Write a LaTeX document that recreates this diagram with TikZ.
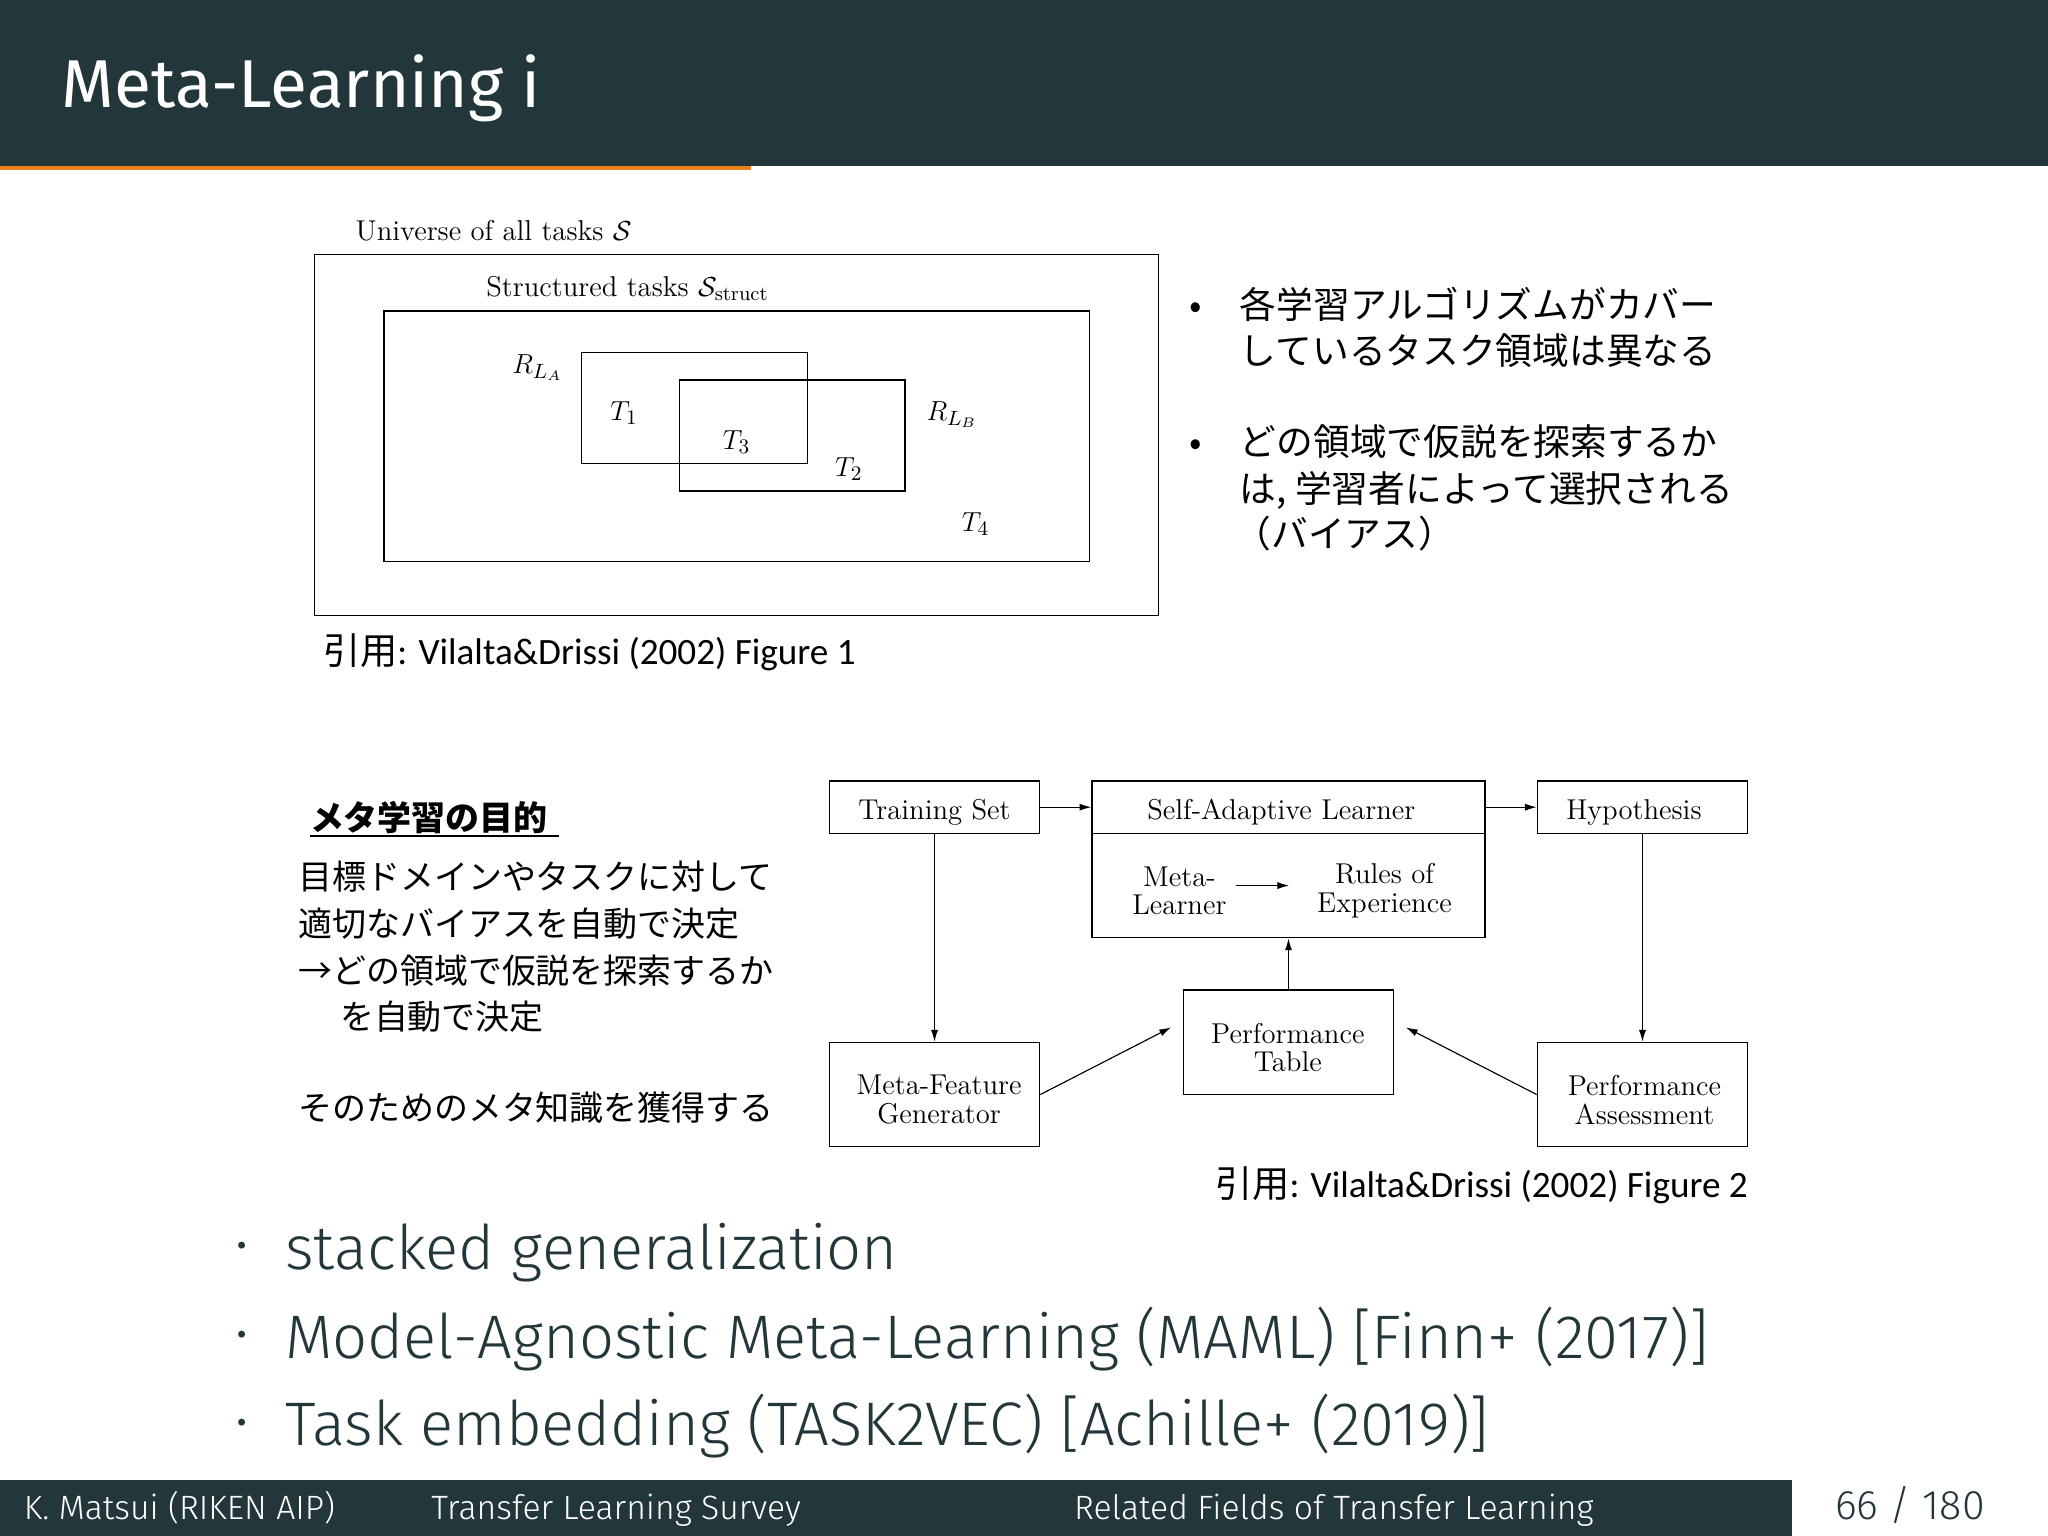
\documentclass[tikz,border=0pt]{standalone}
\usepackage{fontspec}
\usepackage{amsmath}
\setsansfont{Fira Sans}
\newfontfamily\cjk{Noto Sans CJK JP}
\newfontfamily\fira{Fira Sans}
\newfontfamily\firal{Fira Sans Light}
\newfontfamily\carl{Carlito}
\usetikzlibrary{arrows.meta,calc}
\definecolor{slate}{HTML}{23373B}
\definecolor{orng}{HTML}{EB811B}
\newcommand{\fsz}[1]{\fontsize{#1pt}{#1pt}\selectfont}
\begin{document}
\begin{tikzpicture}[x=0.02cm,y=-0.02cm,
  box/.style={draw,line width=0.6pt,inner sep=0pt},
  btxt/.style={inner sep=0pt,align=center,font=\fsz{12.5}},
  arr/.style={line width=0.5pt,-{Latex[length=1.8mm,width=1.1mm]}},
  jp/.style={anchor=base west,font=\cjk\fsz{16},inner sep=0pt},
  jpl/.style={anchor=base west,font=\cjk\fsz{14.8},inner sep=0pt},
  lm/.style={anchor=base west,font=\fsz{12.5},inner sep=0pt}]
\useasboundingbox (0,0) rectangle (1568,1176);
\fill[white] (0,0) rectangle (1568,1176);
% header
\fill[slate] (0,0) rectangle (1568,127);
\fill[orng] (0,127) rectangle (575,130);
\node[anchor=base west,text=white,font=\fira\fsz{29.5},inner sep=0pt] (title) at (47,82) {Meta-Learning i};
% footer
\fill[slate] (0,1133) rectangle (1372,1176);
\node[anchor=base west,text=white,font=\firal\fsz{14.7},inner sep=0pt] (f1) at (18,1163) {K. Matsui (RIKEN AIP)};
\node[anchor=base west,text=white,font=\firal\fsz{14.7},inner sep=0pt] (f2) at (330,1163) {Transfer Learning Survey};
\node[anchor=base west,text=white,font=\firal\fsz{14.7},inner sep=0pt] (f3) at (822,1163) {Related Fields of Transfer Learning};
\node[anchor=base east,text=slate,font=\firal\fsz{18},inner sep=0pt] (pg) at (1520,1163) {66 / 180};
% figure 1
\node[lm] (u) at (272,184) {Universe of all tasks $\mathcal{S}$};
\draw[line width=0.6pt] (241,195) rectangle (887,471);
\node[lm] (st) at (372,227) {Structured tasks $\mathcal{S}_{\text{struct}}$};
\draw[line width=0.6pt] (294,238) rectangle (834,430);
\draw[line width=0.6pt] (445,270) rectangle (618,355);
\draw[line width=0.6pt] (520,291) rectangle (693,376);
\node[lm] (ra) at (392,286) {$R_{L_A}$};
\node[lm] (t1) at (467,322) {$T_1$};
\node[lm] (t3) at (553,344) {$T_3$};
\node[lm] (t2) at (639,365) {$T_2$};
\node[lm] (rb) at (709,322) {$R_{L_B}$};
\node[lm] (t4) at (736,407) {$T_4$};
\node[anchor=base west,inner sep=0pt,font=\carl\fsz{16.2}] (c1) at (247,509) {{\cjk 引用}: Vilalta\&Drissi (2002) Figure 1};
% right bullets
\node[jp] (b1) at (910,244) {•};
\node[jp] (b1a) at (949,244) {各学習アルゴリズムがカバー};
\node[jp] (b1b) at (949,279) {しているタスク領域は異なる};
\node[jp] (b2) at (910,349) {•};
\node[jp] (b2a) at (949,349) {どの領域で仮説を探索するか};
\node[jp] (b2b) at (949,385) {は, 学習者によって選択される};
\node[jp] (b2c) at (945,419) {（バイアス）};
% left text
\node[jpl,font=\cjk\bfseries\fsz{14.8}] (h) at (237,636) {メタ学習の目的};
\draw[line width=1.2pt] (237,640) -- (428,640);
\node[jpl] (l1) at (228,681) {目標ドメインやタスクに対して};
\node[jpl] (l2) at (228,717) {適切なバイアスを自動で決定};
\node[jpl] (l3) at (228,753) {→どの領域で仮説を探索するか};
\node[jpl] (l4) at (260,788) {を自動で決定};
\node[jpl] (l5) at (228,858) {そのためのメタ知識を獲得する};
% figure 2
\node[box,minimum width=3.22cm,minimum height=0.8cm] (ts) at (715.5,618) {};
\node[btxt] (tst) at (715.5,622) {Training Set};
\node[box,minimum width=6.02cm,minimum height=2.4cm] (sal) at (986.5,658) {};
\node[btxt] (sallab) at (981,622) {Self-Adaptive Learner};
\draw[line width=0.6pt] (836,638) -- (1137,638);
\node[btxt] (ml) at (903,682) {Meta-\\Learner};
\node[btxt] (re) at (1060,682) {Rules of\\Experience};
\draw[arr] (946,678) -- (987,678);
\node[box,minimum width=3.22cm,minimum height=0.8cm] (hy) at (1257.5,618) {};
\node[btxt] (hyt) at (1251,622) {Hypothesis};
\node[box,minimum width=3.22cm,minimum height=1.6cm] (pt) at (986.5,798) {};
\node[btxt] (ptt) at (986,802) {Performance\\Table};
\node[box,minimum width=3.22cm,minimum height=1.6cm] (mfg) at (715.5,838) {};
\node[btxt] (mfgt) at (719,842) {Meta-Feature\\Generator};
\node[box,minimum width=3.22cm,minimum height=1.6cm] (pa) at (1257.5,838) {};
\node[btxt] (pat) at (1259,842) {Performance\\Assessment};
\draw[arr] (ts) -- (sal.west |- ts);
\draw[arr] (sal.east |- hy) -- (hy);
\draw[arr] (ts) -- (mfg);
\draw[arr] (hy) -- (pa);
\draw[arr] (pt) -- (sal.south -| pt);
\draw[arr,shorten >=0.2cm] (mfg.east) -- ($(pt.west)+(0,-16)$);
\draw[arr,shorten >=0.2cm] (pa.west) -- ($(pt.east)+(0,-16)$);
\node[anchor=base west,inner sep=0pt,font=\carl\fsz{16.2}] (c2) at (930,917) {{\cjk 引用}: Vilalta\&Drissi (2002) Figure 2};
% bottom bullets
\foreach \yy/\tt [count=\i] in {972/stacked generalization,1040/Model-Agnostic Meta-Learning (MAML) [Finn+ (2017)],1107/Task embedding (TASK2VEC) [Achille+ (2019)]}{
  \node[anchor=base west,inner sep=0pt,text=slate,font=\firal\fsz{26.8}] (bl\i) at (218,\yy) {\tt};
  \node[anchor=base west,inner sep=0pt,text=slate,font=\firal\fsz{20}] (bd\i) at (180,\yy-6) {•};
}
\end{tikzpicture}
\end{document}
